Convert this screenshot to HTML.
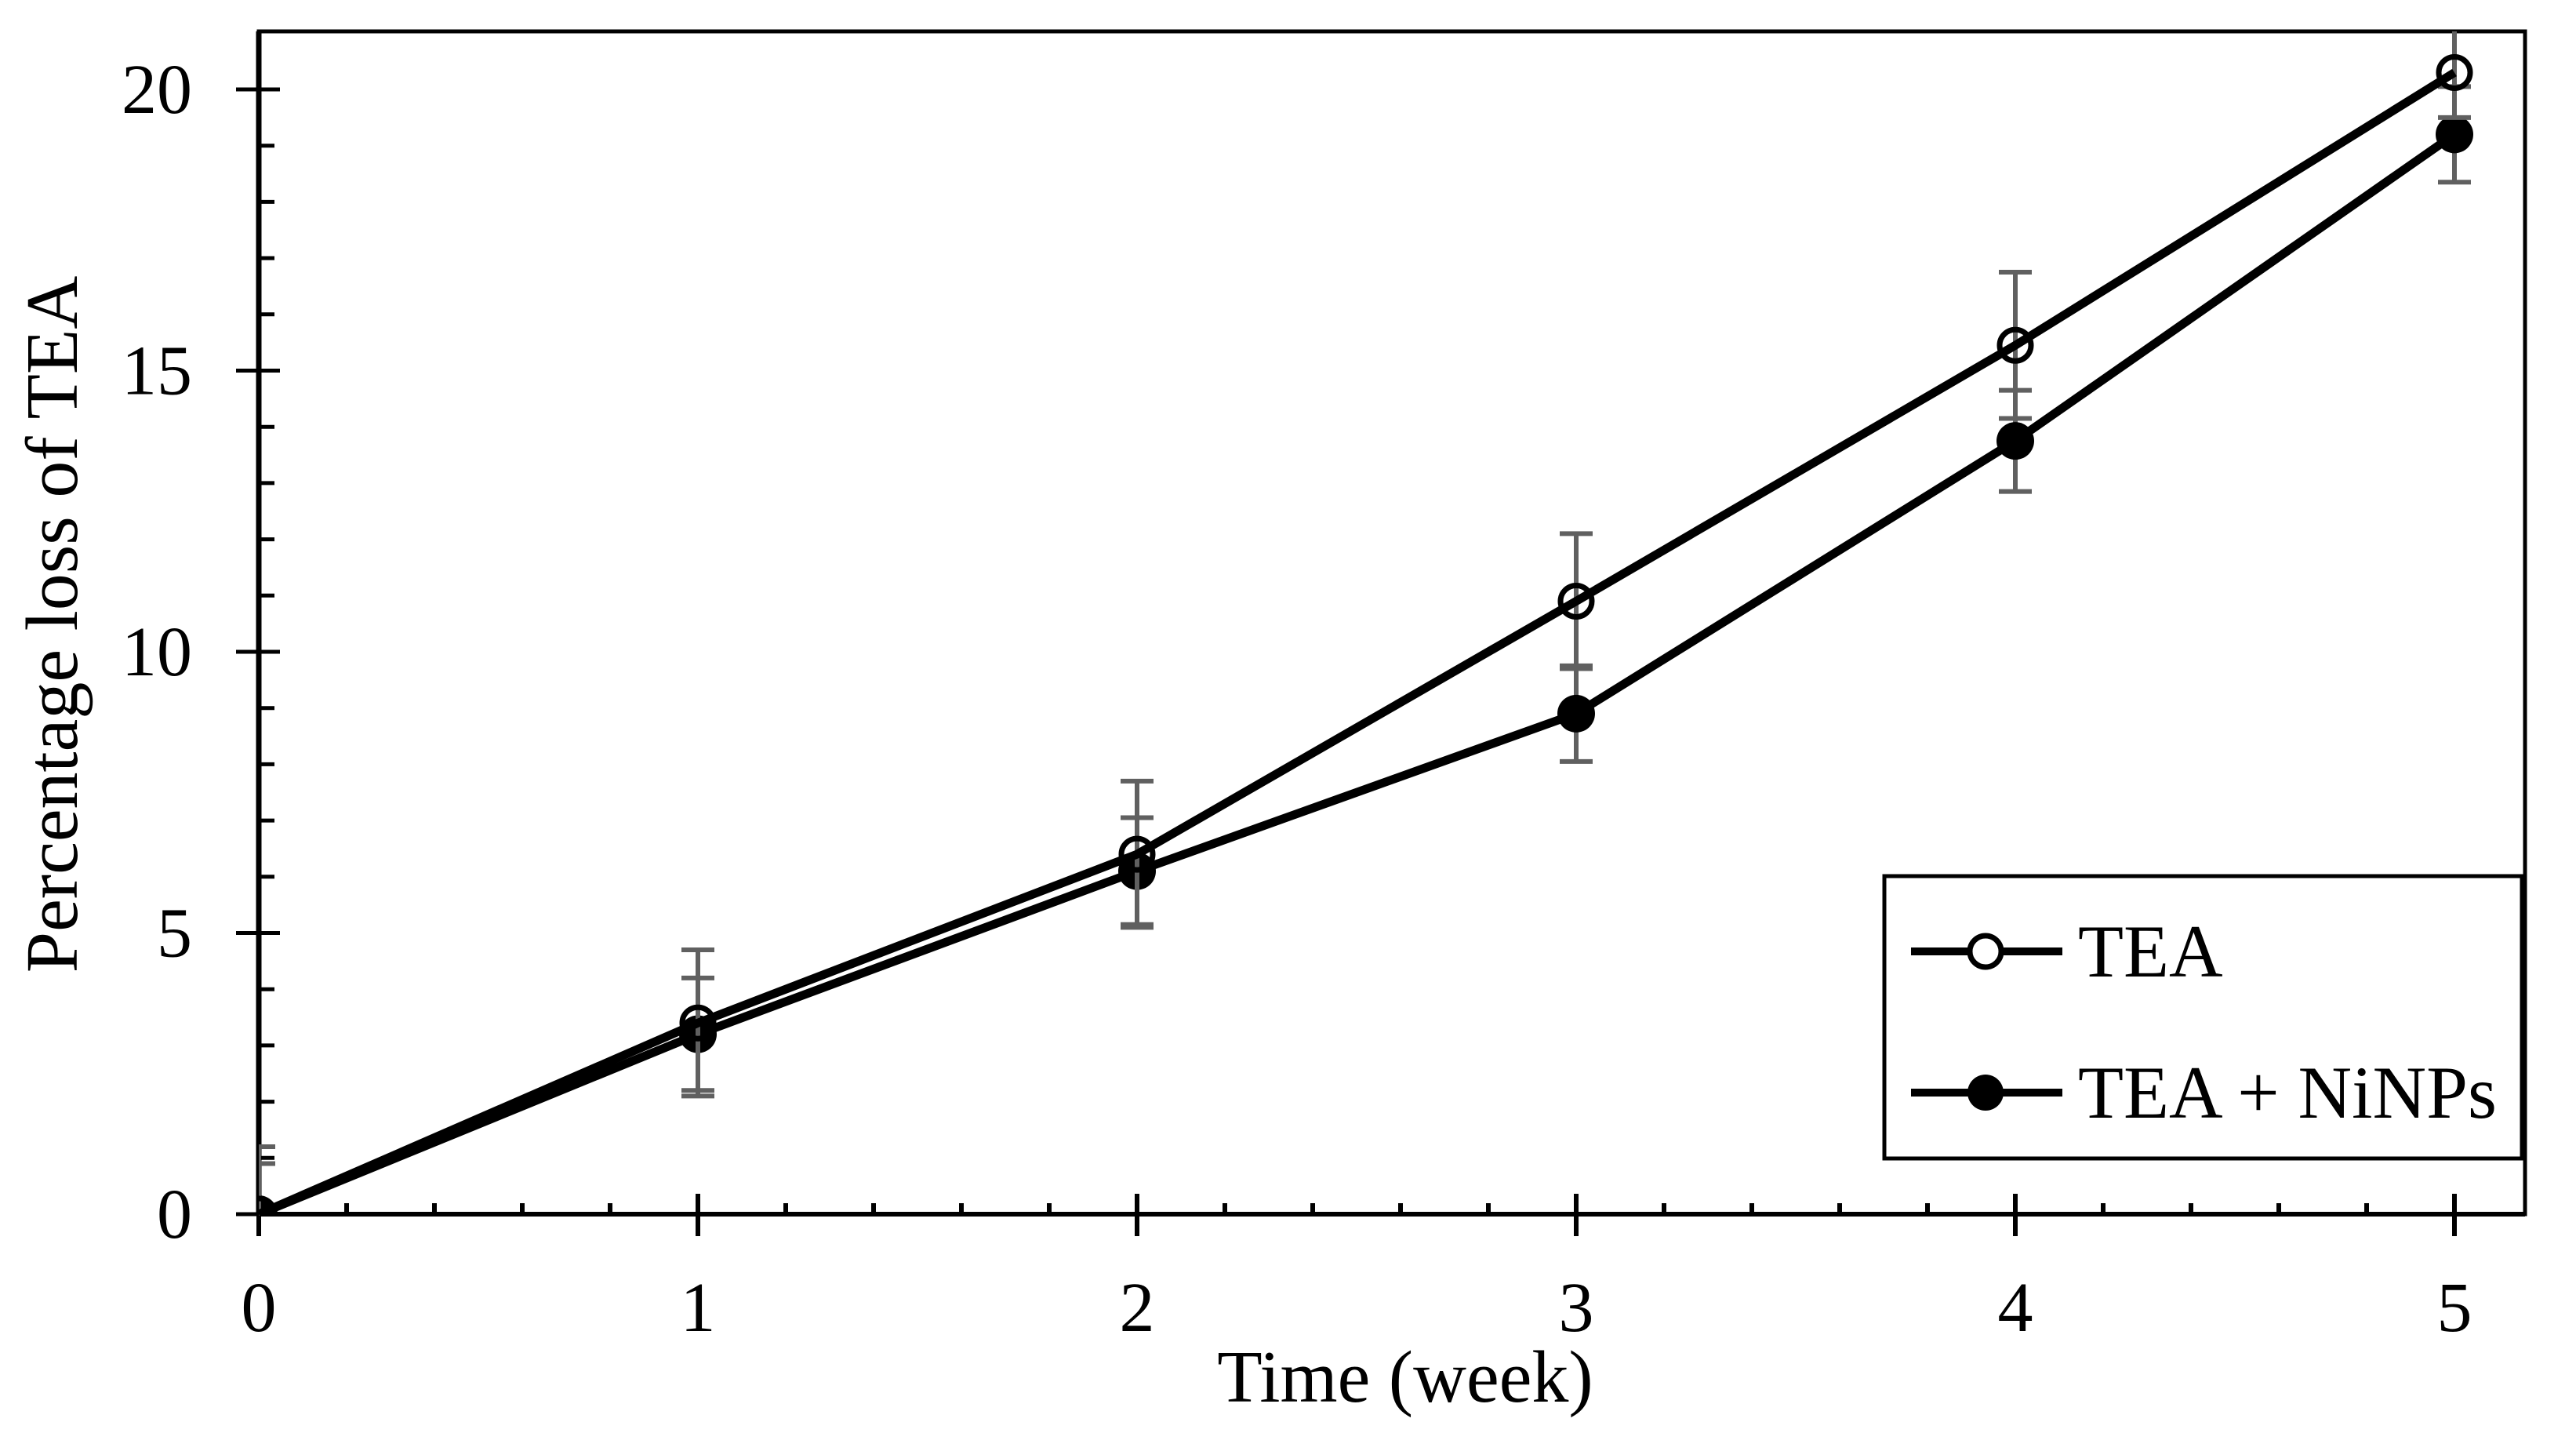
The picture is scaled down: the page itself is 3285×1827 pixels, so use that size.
<!DOCTYPE html>
<html><head><meta charset="utf-8"><style>
html,body{margin:0;padding:0;background:#fff;}
svg{display:block;font-family:"Liberation Serif",serif;}
</style></head><body>
<svg id="chart" width="3285" height="1827" viewBox="0 0 3285 1827">
<defs><clipPath id="pc"><rect x="330" y="40" width="2892" height="1510"/></clipPath></defs>
<rect x="330" y="40" width="2890" height="1508" fill="none" stroke="#000" stroke-width="5"/>
<g id="axes"></g>
<g id="series" clip-path="url(#pc)"></g>
<text x="1792" y="1787" font-size="94" text-anchor="middle">Time (week)</text>
<text transform="translate(98,796) rotate(-90)" font-size="94" text-anchor="middle">Percentage loss of TEA</text>
<g>
<rect x="2403" y="1117" width="813" height="360" fill="#fff" stroke="#000" stroke-width="5"/>
<g>
<line x1="2437" y1="1213" x2="2630" y2="1213" stroke="#000" stroke-width="10"/>
<circle cx="2532" cy="1213" r="20" fill="#fff" stroke="#000" stroke-width="7"/>
<text x="2650" y="1245" font-size="95">TEA</text></g>
<g>
<line x1="2437" y1="1393" x2="2630" y2="1393" stroke="#000" stroke-width="10"/>
<circle cx="2532" cy="1393" r="23" fill="#000"/>
<text x="2650" y="1425" font-size="95">TEA + NiNPs</text></g>
</g>
</svg>
<script>
const weeks=[0,1,2,3,4,5];
const teaValues=[0,3.4,6.4,10.9,15.45,20.3];
const teaErrors=[1.2,1.3,1.3,1.2,1.3,0.8];
const niValues=[0,3.2,6.1,8.9,13.75,19.2];
const niErrors=[0.9,1.0,0.95,0.85,0.9,0.85];
const yTicks=[0,5,10,15,20];
const xTicks=[0,1,2,3,4,5];
const NS="http://www.w3.org/2000/svg";
const X0=330,XU=560,Y0=1548,YU=71.7;
function sx(v){return X0+v*XU;}
function sy(v){return Y0-v*YU;}
function mk(tag,attrs,parent){const e=document.createElementNS(NS,tag);for(const k in attrs)e.setAttribute(k,attrs[k]);parent.appendChild(e);return e;}
const axes=document.getElementById('axes');
const series=document.getElementById('series');
let ya=mk('line',{x1:X0,y1:40,x2:X0,y2:Y0,stroke:'#000','stroke-width':7},axes);


let xa=mk('line',{x1:X0,y1:Y0,x2:3220,y2:Y0,stroke:'#000','stroke-width':6},axes);


for(let v=0;v<=20;v++){
  const major=v%5===0;
  const t=mk('line',{x1:major?301:X0,y1:sy(v),x2:major?357:350,y2:sy(v),stroke:'#000','stroke-width':5},axes);
  
  
}
yTicks.forEach(v=>{
  const t=mk('text',{x:245,y:sy(v)+30,'font-size':90,'text-anchor':'end'},axes);
  t.textContent=v;
  
  
});
for(let i=0;i<=26;i++){
  const v=i*0.2;
  if(sx(v)>3215)break;
  const major=i%5===0;
  const t=mk('line',{x1:sx(v),y1:major?Y0-26:Y0-14,x2:sx(v),y2:major?Y0+28:Y0,stroke:'#000','stroke-width':6},axes);
  
  
}
xTicks.forEach(v=>{
  const t=mk('text',{x:sx(v),y:1697,'font-size':90,'text-anchor':'middle'},axes);
  t.textContent=v;
  
  
});
function drawSeries(vals,errs,filled,name){
  const g=mk('g',{},series);
  
  
  vals.forEach((v,i)=>{
    const x=sx(weeks[i]),e=errs[i];
    const eb=mk('path',{d:`M${x},${sy(v-e)}V${sy(v+e)}M${x-21},${sy(v-e)}H${x+21}M${x-21},${sy(v+e)}H${x+21}`,stroke:'#606060','stroke-width':6,fill:'none'},g);
    
    
  });
  const pl=mk('polyline',{points:vals.map((v,i)=>sx(weeks[i])+','+sy(v)).join(' '),fill:'none',stroke:'#000','stroke-width':11,'stroke-linejoin':'round'},g);
  
  
  vals.forEach((v,i)=>{
    const c=filled?mk('circle',{cx:sx(weeks[i]),cy:sy(v),r:24,fill:'#000'},g):mk('circle',{cx:sx(weeks[i]),cy:sy(v),r:20,fill:'none',stroke:'#000','stroke-width':7},g);
    
    
  });
}
drawSeries(niValues,niErrors,true,'tea-ninps-series');
drawSeries(teaValues,teaErrors,false,'tea-series');
</script>
</body></html>
